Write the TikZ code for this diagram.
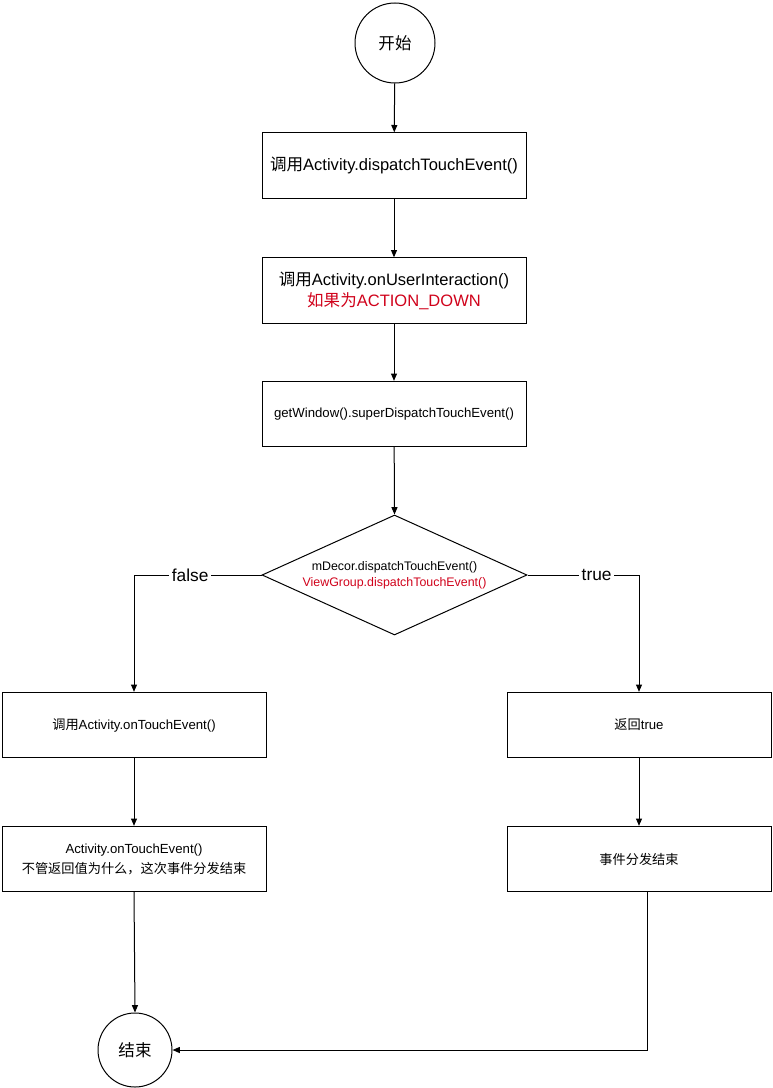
\documentclass[tikz,border=0pt]{standalone}
\usepackage{fontspec}
\setmainfont{Liberation Sans}
\newfontfamily\cjk{Noto Sans CJK SC}
\usepackage{xcolor}
\usetikzlibrary{shapes.geometric,arrows.meta}
\definecolor{noteRed}{RGB}{208,2,27}

\begin{document}
\begin{tikzpicture}[x=0.75pt,y=0.75pt,yscale=-1,xscale=1,
  line width=0.75pt,
  arr/.style={-{Triangle[length=5.5pt,width=4.5pt]}},
  box/.style={draw, minimum width=198pt, minimum height=49pt, align=center, inner sep=0.75pt},
  bigtxt/.style={font=\fontsize{12.4}{15.75}\selectfont},
  smalltxt/.style={font=\fontsize{9.9}{12}\selectfont},
  endpt/.style={draw, circle, inner sep=0pt, font=\fontsize{12.4}{13}\selectfont}]
\useasboundingbox (0,0) rectangle (772,1088);

%Shape: Circle
\node [endpt, minimum size=60pt] (start) at (395,43) {\cjk 开始};
%Shape: Rectangle
\node [box, bigtxt] (call) at (394,165.5) {{\cjk 调用}Activity.dispatchTouchEvent()};
%Shape: Rectangle
\node [box, bigtxt] (user) at (394,290.5) {{\cjk 调用}Activity.onUserInteraction()\\\textcolor{noteRed}{{\cjk 如果为}ACTION\_DOWN}};
%Shape: Rectangle
\node [box, smalltxt] (win) at (394,414) {getWindow().superDispatchTouchEvent()};
%Shape: Diamond
\node [draw, diamond, minimum width=198.75pt, minimum height=90pt, inner sep=0pt] (dec) at (394.5,575) {};
% Text Node
\node [font=\fontsize{9.3}{12}\selectfont, align=center, inner sep=0.75pt] (decTxt) at (dec.center) {mDecor.dispatchTouchEvent()\\\textcolor{noteRed}{ViewGroup.dispatchTouchEvent()}};
%Shape: Rectangle
\node [box, smalltxt] (touch) at (134,725) {{\cjk 调用}Activity.onTouchEvent()};
%Shape: Rectangle
\node [box, font=\fontsize{9.9}{15}\selectfont] (any) at (134,859) {Activity.onTouchEvent()\\{\cjk 不管返回值为什么，这次事件分发结束}};
%Shape: Rectangle
\node [box, smalltxt] (ret) at (639,725) {{\cjk 返回}true};
%Shape: Rectangle
\node [box, smalltxt] (done) at (639,859) {\cjk 事件分发结束};
%Shape: Circle
\node [endpt, minimum size=55.5pt] (stop) at (135,1050) {\cjk 结束};

%Straight Lines
\draw [arr] (start) -- (call);
\draw [arr] (call) -- (user);
\draw [arr] (user) -- (win);
\draw [arr] (win) -- (dec.north);
\draw [arr] (dec.west) -| (touch.north) node [pos=0.28, fill=white, font=\fontsize{13}{15}\selectfont, inner sep=2pt] {false};
\draw [arr] (dec.east) -| (ret.north) node [pos=0.31, fill=white, font=\fontsize{13}{15}\selectfont, inner sep=2pt] {true};
\draw [arr] (touch) -- (any);
\draw [arr] (ret) -- (done);
\draw [arr] (any.south) -- (stop.north);
\draw [arr] ([xshift=6]done.south) |- (stop.east);

\end{tikzpicture}
\end{document}
